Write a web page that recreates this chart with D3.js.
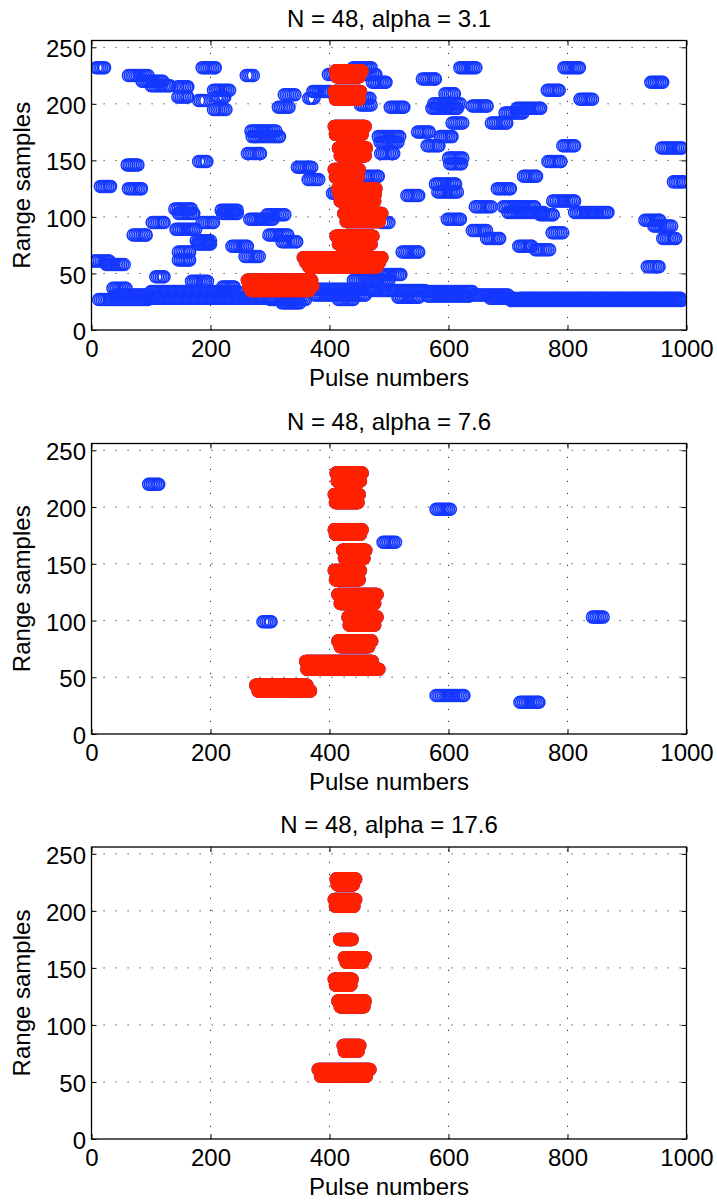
<!DOCTYPE html>
<html>
<head>
<meta charset="utf-8">
<script src="https://cdn.jsdelivr.net/npm/d3@7"></script>
<style>
  body { margin: 0; background: #fff; }
  svg text { font-family: "Liberation Sans", Arial, Helvetica, sans-serif; fill: #000; }
</style>
</head>
<body>
<svg id="fig" width="717" height="1204"></svg>
<script>
// ---- data -------------------------------------------------------------
const pulseTicks = [0, 200, 400, 600, 800, 1000];
const rangeTicks = [0, 50, 100, 150, 200, 250];
const titles = ["N = 48, alpha = 3.1", "N = 48, alpha = 7.6", "N = 48, alpha = 17.6"];
const xLabel = "Pulse numbers";
const yLabel = "Range samples";

// Detection tracks: [first pulse, last pulse, range sample]
const allDetections1 = [
  [8, 22, 232],
  [62, 95, 225], [85, 120, 220], [100, 132, 216],
  [145, 162, 215], [145, 162, 206],
  [180, 192, 203], [186, 208, 232],
  [205, 232, 212], [210, 224, 206], [205, 226, 195],
  [260, 272, 225],
  [268, 310, 176], [270, 316, 171], [262, 284, 156],
  [314, 332, 197], [324, 342, 208],
  [365, 374, 205], [372, 400, 211],
  [346, 370, 144], [364, 382, 133],
  [15, 32, 127], [60, 78, 146], [62, 84, 125], [180, 194, 149],
  [619, 646, 232], [556, 578, 222], [794, 820, 232], [940, 960, 219],
  [766, 786, 212], [821, 842, 204], [594, 610, 209],
  [575, 620, 200], [572, 615, 196], [502, 525, 197], [472, 495, 219],
  [640, 665, 198], [672, 698, 183], [695, 725, 192], [715, 755, 196],
  [606, 624, 183], [548, 568, 175], [482, 518, 171], [485, 515, 166],
  [564, 584, 163], [586, 606, 171], [486, 508, 156], [792, 812, 163],
  [958, 992, 161], [600, 624, 152], [602, 622, 147], [767, 789, 149],
  [726, 748, 136], [978, 995, 131], [578, 612, 129], [582, 615, 122],
  [682, 704, 125], [530, 550, 119], [775, 812, 114],
  [645, 672, 109], [692, 745, 109], [700, 760, 104], [812, 868, 104],
  [754, 776, 102], [598, 620, 98], [640, 664, 88], [664, 686, 81],
  [774, 792, 86], [718, 740, 74], [746, 770, 71], [522, 550, 69],
  [930, 955, 97], [945, 975, 92], [960, 982, 81], [934, 954, 56],
  [4, 30, 61], [25, 55, 58], [36, 58, 37],
  [70, 92, 84], [102, 122, 95], [108, 122, 47],
  [140, 168, 107], [146, 172, 103], [142, 175, 89],
  [146, 165, 69], [146, 165, 62], [168, 195, 43],
  [176, 200, 79], [178, 200, 76], [186, 205, 95],
  [218, 245, 106], [220, 245, 103], [236, 262, 74], [258, 282, 65],
  [266, 305, 98], [295, 325, 102], [298, 330, 84], [320, 345, 78],
  [440, 470, 232], [455, 478, 226], [398, 410, 226], [450, 468, 205], [452, 470, 199],
  [460, 482, 136], [488, 500, 95], [405, 418, 121],
  [12, 95, 27], [40, 100, 31], [95, 250, 28], [100, 245, 34], [220, 240, 38],
  [245, 300, 28], [300, 360, 27], [320, 350, 24],
  [360, 470, 36], [375, 460, 31], [415, 440, 27],
  [440, 500, 44], [485, 520, 49],
  [470, 560, 35], [515, 550, 29], [560, 640, 34], [565, 635, 30],
  [640, 700, 31], [670, 712, 28], [705, 992, 26], [720, 990, 28]
];
const targets1 = [
  [410, 455, 229], [412, 450, 224],
  [408, 452, 211], [410, 450, 204],
  [408, 460, 180], [410, 455, 173],
  [415, 462, 161], [418, 460, 154],
  [408, 450, 142], [410, 448, 135],
  [414, 478, 125], [416, 477, 120], [418, 476, 114],
  [424, 488, 103], [428, 484, 96],
  [411, 473, 83], [415, 470, 76],
  [356, 488, 64], [360, 484, 60], [365, 480, 56],
  [262, 370, 44], [264, 372, 39], [268, 366, 35]
];

const allDetections2 = [
  [96, 113, 220], [288, 302, 99], [490, 511, 169], [579, 603, 198],
  [579, 626, 34], [720, 752, 28], [842, 860, 103]
];
const targets2 = [
  [411, 455, 230], [413, 452, 223],
  [408, 450, 211], [410, 448, 204],
  [408, 455, 180], [410, 452, 176],
  [422, 461, 162], [425, 458, 155],
  [408, 452, 144], [410, 450, 136],
  [414, 480, 123], [418, 476, 115],
  [431, 480, 103], [433, 476, 96],
  [414, 471, 82], [418, 466, 77],
  [360, 472, 64], [362, 483, 57],
  [276, 362, 43], [280, 368, 38]
];

const allDetections3 = [];
const targets3 = [
  [411, 444, 228], [413, 440, 223],
  [408, 444, 210], [410, 441, 204],
  [417, 438, 175],
  [425, 460, 159], [428, 456, 155],
  [408, 438, 140], [410, 436, 135],
  [414, 460, 121], [418, 458, 116],
  [423, 451, 82], [425, 448, 77],
  [381, 468, 61], [385, 462, 55]
];

const panels = [
  { title: titles[0], detections: allDetections1, targets: targets1 },
  { title: titles[1], detections: allDetections2, targets: targets2 },
  { title: titles[2], detections: allDetections3, targets: targets3 }
];

// ---- layout & style ---------------------------------------------------
const left = 91.5, right = 686.5;
const tops = [40.5, 443.5, 847];
const bottoms = [330, 734, 1139];
const blue = "#1438ff", red = "#ff2200";
const R = 6, SW = 1.5;
const detStep = 3, tgtStep = 1;   // pulse interval of plotted detections
const fontSize = 24;

const svg = d3.select("#fig");
const x = d3.scaleLinear().domain([0, 1000]).range([left, right]);

function expand(tracks, step) {
  const pts = [];
  tracks.forEach(([a, b, r]) => {
    for (let p = a; p <= b; p += step) pts.push([p, r]);
    if ((b - a) % step) pts.push([b, r]);
  });
  return pts;
}

panels.forEach((pnl, i) => {
  const top = tops[i], bottom = bottoms[i];
  const y = d3.scaleLinear().domain([0, 256]).range([bottom, top]);
  const g = svg.append("g");

  // dotted grid
  const grid = g.append("g").attr("stroke", "#333").attr("stroke-width", 1)
    .attr("stroke-dasharray", "1.2,10.8");
  grid.selectAll("line.v").data(pulseTicks.slice(1, -1)).join("line")
    .attr("x1", d => x(d)).attr("x2", d => x(d))
    .attr("y1", bottom).attr("y2", top);
  grid.selectAll("line.h").data(rangeTicks.slice(1)).join("line")
    .attr("x1", left).attr("x2", right)
    .attr("y1", d => y(d)).attr("y2", d => y(d));

  // markers: every detection in blue, targets over it in red
  const clipId = "clip" + i;
  svg.append("clipPath").attr("id", clipId).append("rect")
    .attr("x", left).attr("y", top).attr("width", right - left).attr("height", bottom - top);
  const marks = g.append("g").attr("clip-path", `url(#${clipId})`)
    .attr("fill", "none").attr("stroke-width", SW);
  const detPts = expand(pnl.detections, detStep).concat(expand(pnl.targets, tgtStep));
  marks.append("g").attr("stroke", blue).selectAll("circle").data(detPts).join("circle")
    .attr("cx", d => x(d[0])).attr("cy", d => y(d[1])).attr("r", R);
  marks.append("g").attr("stroke", red).selectAll("circle").data(expand(pnl.targets, tgtStep)).join("circle")
    .attr("cx", d => x(d[0])).attr("cy", d => y(d[1])).attr("r", R);

  // axes (ticks point inwards on all four sides)
  const ax = (sel) => sel.call(s => s.select(".domain").remove())
    .call(s => s.selectAll("line").attr("stroke", "#000").attr("stroke-width", 1));
  const fmt = d3.format("d");
  g.append("g").attr("transform", `translate(0,${bottom})`)
    .call(d3.axisBottom(x).tickValues(pulseTicks).tickFormat(fmt).tickSizeInner(-5).tickSizeOuter(0).tickPadding(10))
    .call(ax).selectAll("text").attr("font-size", fontSize).attr("font-family", null);
  g.append("g").attr("transform", `translate(0,${top})`)
    .call(d3.axisTop(x).tickValues(pulseTicks).tickSizeInner(-5).tickSizeOuter(0).tickFormat(""))
    .call(ax);
  g.append("g").attr("transform", `translate(${left},0)`)
    .call(d3.axisLeft(y).tickValues(rangeTicks).tickFormat(fmt).tickSizeInner(-5).tickSizeOuter(0).tickPadding(5.5))
    .call(ax).selectAll("text").attr("font-size", fontSize).attr("font-family", null).attr("dy", "0.40em");
  g.append("g").attr("transform", `translate(${right},0)`)
    .call(d3.axisRight(y).tickValues(rangeTicks).tickSizeInner(-5).tickSizeOuter(0).tickFormat(""))
    .call(ax);

  // frame
  g.append("rect").attr("x", left).attr("y", top)
    .attr("width", right - left).attr("height", bottom - top)
    .attr("fill", "none").attr("stroke", "#000").attr("stroke-width", 1.3);

  // texts
  const cx = (left + right) / 2;
  g.append("text").attr("x", cx).attr("y", top - 14).attr("text-anchor", "middle")
    .attr("font-size", fontSize).text(pnl.title);
  g.append("text").attr("x", cx).attr("y", bottom + 56).attr("text-anchor", "middle")
    .attr("font-size", fontSize).text(xLabel);
  g.append("text").attr("transform", `translate(30,${(top + bottom) / 2}) rotate(-90)`)
    .attr("text-anchor", "middle").attr("font-size", fontSize).text(yLabel);
});
</script>
</body>
</html>
